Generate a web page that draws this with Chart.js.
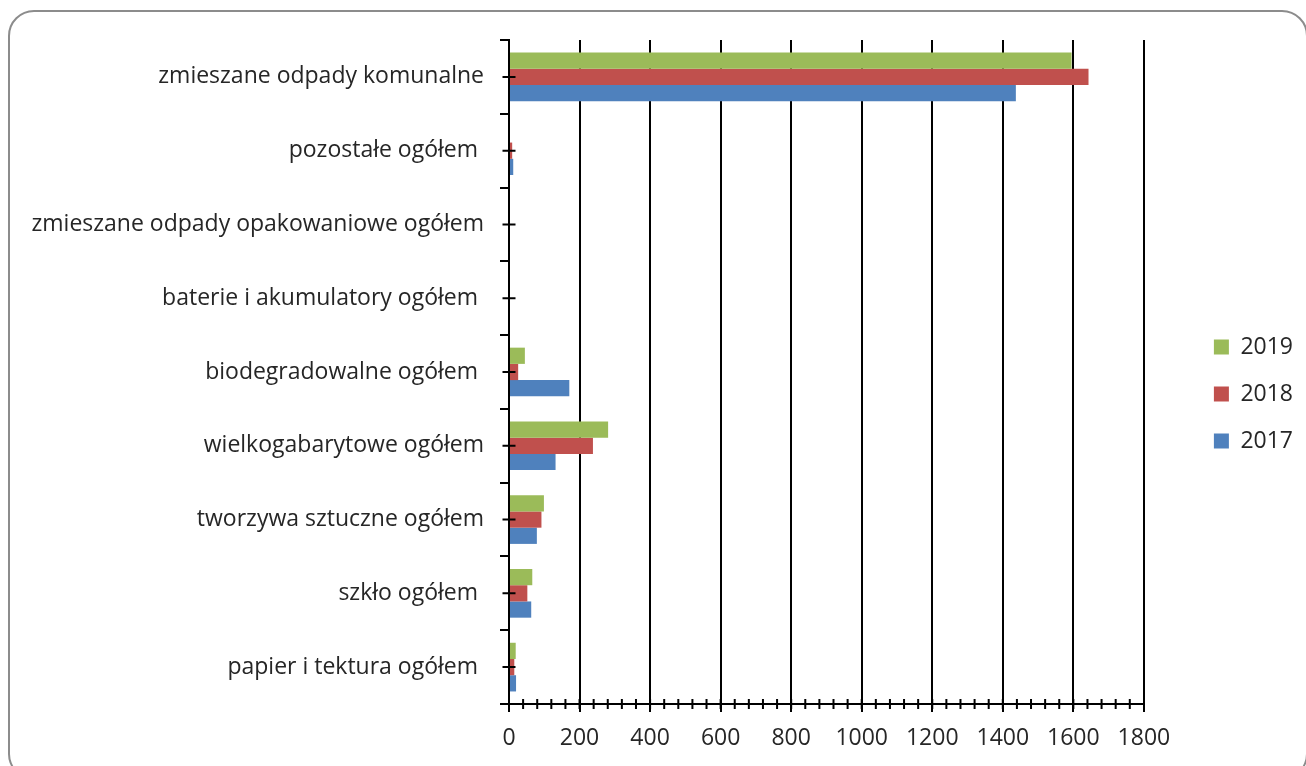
<!DOCTYPE html>
<html lang="pl">

<head>
  <meta charset="UTF-8">
  <title>Odpady</title>
  <script src="https://cdn.jsdelivr.net/npm/chart.js"></script>
  <style>
    html, body {
      margin: 0;
      padding: 0;
      background: #ffffff;
      overflow: hidden;
    }

    .ramka {
      position: absolute;
      left: 8px;
      top: 10px;
      width: 1300px;
      height: 770px;
      border: 2px solid #8c8c8c;
      border-radius: 26px;
      box-sizing: border-box;
    }

    .wykres {
      position: absolute;
      left: 0;
      top: 0;
      width: 1306px;
      height: 766px;
    }
  </style>
</head>

<body>
  <div class="ramka"></div>
  <div class="wykres">
    <canvas id="chartOdpady"></canvas>
  </div>
</body>

</html>

<script>

  const kategorie = [
    'zmieszane odpady komunalne',
    'pozostałe ogółem ',
    'zmieszane odpady opakowaniowe ogółem',
    'baterie i akumulatory ogółem ',
    'biodegradowalne ogółem ',
    'wielkogabarytowe ogółem',
    'tworzywa sztuczne ogółem',
    'szkło ogółem ',
    'papier i tektura ogółem '
  ];

  const dane2019 = [1595, 0, 0, 0, 45, 281, 99, 66, 19];
  const dane2018 = [1643, 9, 0, 0, 26, 238, 92, 52, 15];
  const dane2017 = [1437, 12, 0, 0, 171, 132, 79, 63, 20];

  const osX = { min: 0, max: 1800, krok: 200, krokPomocniczy: 40 };

  const czcionka = { family: "'Open Sans', sans-serif", size: 23 };
  const kolorTekstu = '#262626';

  // male kreski na osiach (jak w Excelu)
  const kreskiPomocnicze = {
    id: 'kreskiPomocnicze',
    afterDraw(chart) {
      const ctx = chart.ctx;
      const x = chart.scales.x;
      const y = chart.scales.y;
      ctx.save();
      ctx.strokeStyle = '#000000';
      ctx.lineWidth = 2;
      ctx.beginPath();
      for (let v = osX.min + osX.krokPomocniczy; v < osX.max; v += osX.krokPomocniczy) {
        const px = x.getPixelForValue(v);
        ctx.moveTo(px, x.top - 5);
        ctx.lineTo(px, x.top + 5);
      }
      for (let i = 0; i < kategorie.length; i++) {
        const py = y.getPixelForValue(i);
        ctx.moveTo(y.right - 6.5, py);
        ctx.lineTo(y.right + 6.5, py);
      }
      ctx.stroke();
      ctx.restore();
    }
  };

  const odpady = document.getElementById('chartOdpady');

  new Chart(odpady, {
    type: 'bar',
    data: {
      labels: kategorie,
      datasets: [{
        label: '2019',
        data: dane2019,
        backgroundColor: '#9BBB59',
        borderWidth: 0
      }, {
        label: '2018',
        data: dane2018,
        backgroundColor: '#C0504D',
        borderWidth: 0
      }, {
        label: '2017',
        data: dane2017,
        backgroundColor: '#4F81BD',
        borderWidth: 0
      }]
    },
    options: {
      indexAxis: 'y',
      responsive: true,
      maintainAspectRatio: false,
      animation: false,
      categoryPercentage: 0.66,
      barPercentage: 1.0,
      layout: {
        padding: { top: 40, bottom: 18, left: 0, right: 3 }
      },
      plugins: {
        tooltip: { enabled: false },
        legend: {
          position: 'right',
          labels: {
            boxWidth: 15,
            boxHeight: 15,
            padding: 24,
            color: kolorTekstu,
            font: czcionka
          }
        }
      },
      scales: {
        x: {
          min: osX.min,
          max: osX.max,
          afterFit: (s) => { s.height = 44; },
          ticks: {
            stepSize: osX.krok,
            color: kolorTekstu,
            font: czcionka,
            padding: 13,
            callback: (v) => String(v)
          },
          grid: {
            color: '#000000',
            lineWidth: 2,
            tickLength: 8
          },
          border: {
            color: '#000000',
            width: 2
          }
        },
        y: {
          afterFit: (s) => { s.width = 509; },
          ticks: {
            color: kolorTekstu,
            font: czcionka,
            padding: 16
          },
          grid: {
            offset: true,
            drawOnChartArea: false,
            color: '#000000',
            lineWidth: 2,
            tickLength: 9
          },
          border: {
            color: '#000000',
            width: 2
          }
        },
        odstep: {
          type: 'linear',
          position: 'right',
          display: true,
          afterFit: (s) => { s.width = 46; },
          ticks: { display: false },
          grid: { display: false },
          border: { display: false }
        }
      }
    },
    plugins: [kreskiPomocnicze]
  });

</script>
